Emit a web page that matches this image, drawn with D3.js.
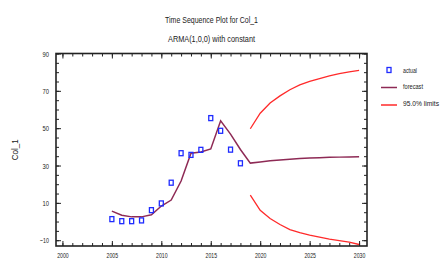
<!DOCTYPE html>
<html>
<head>
<meta charset="utf-8">
<script src="https://cdn.jsdelivr.net/npm/d3@7"></script>
<style>
  body { margin: 0; background: #fff; }
  svg text { font-family: "Liberation Sans", Arial, sans-serif; fill: #222; }
</style>
</head>
<body>
<div id="chart"></div>
<script>
const actualYears = [2005, 2006, 2007, 2008, 2009, 2010, 2011, 2012, 2013, 2014, 2015, 2016, 2017, 2018];
const actualValues = [1.3, 0.2, 0.2, 0.6, 6.1, 9.7, 20.8, 36.6, 35.7, 38.4, 55.4, 48.6, 38.5, 31.2];

const forecastYears = [2005, 2006, 2007, 2008, 2009, 2010, 2011, 2012, 2013, 2014, 2015, 2016, 2017,
    2018, 2019, 2020, 2021, 2022, 2023, 2024, 2025, 2026, 2027, 2028, 2029, 2030];
const forecastValues = [5.6, 3.4, 2.5, 2.5, 3.6, 8.3, 11.5, 21.7, 36.6, 37.3, 38.9, 54.0, 46.8,
    38.6, 31.3, 31.9, 32.5, 33.0, 33.4, 33.7, 34.0, 34.2, 34.4, 34.5, 34.6, 34.7];

const limitYears = [2019, 2020, 2021, 2022, 2023, 2024, 2025, 2026, 2027, 2028, 2029, 2030];
const upperLimits = [49.7, 58.0, 63.5, 67.3, 70.6, 73.2, 75.1, 76.6, 78.0, 79.2, 80.2, 81.0];
const lowerLimits = [14.2, 6.0, 1.6, -1.6, -4.3, -6.0, -7.3, -8.4, -9.4, -10.2, -11.0, -12.3];

const xMajorTicks = [2000, 2005, 2010, 2015, 2020, 2025, 2030];
const yMajorTicks = [-10, 10, 30, 50, 70, 90];
const legendLabels = ["actual", "forecast", "95.0% limits"];

const width = 441, height = 263;
const plotLeft = 56, plotRight = 367, plotTop = 53.5, plotBottom = 246;

const svg = d3.select("#chart").append("svg")
    .attr("width", width)
    .attr("height", height);

const x = d3.scaleLinear().domain([1999.35, 2030.8]).range([plotLeft, plotRight]);
const y = d3.scaleLinear().domain([-13.1, 90]).range([plotBottom, plotTop]);

const xMinor = d3.range(2000, 2031);
const yMinor = d3.range(-10, 91, 5);

// the original uses a very condensed face, so squeeze text to the measured widths
function squeeze(sel, w) {
    sel.attr("textLength", w).attr("lengthAdjust", "spacingAndGlyphs");
}

// titles
svg.append("text").attr("x", 211.5).attr("y", 23).attr("text-anchor", "middle")
    .attr("font-size", 9).text("Time Sequence Plot for Col_1").call(squeeze, 93);
svg.append("text").attr("x", 211.5).attr("y", 42).attr("text-anchor", "middle")
    .attr("font-size", 9).text("ARMA(1,0,0) with constant").call(squeeze, 87);

function styleAxis(g) {
    g.select(".domain").remove();
    g.selectAll("line").attr("stroke", "#222").attr("stroke-width", 1);
    g.selectAll("text").attr("font-size", 8).attr("fill", "#222");
}

svg.append("g").attr("transform", `translate(0,${plotBottom})`)
    .call(d3.axisBottom(x).tickValues(xMinor).tickSize(-3).tickFormat(""))
    .call(styleAxis);
svg.append("g").attr("transform", `translate(0,${plotBottom})`)
    .call(d3.axisBottom(x).tickValues(xMajorTicks).tickSize(-5).tickPadding(6).tickFormat(d3.format("d")))
    .call(styleAxis)
    .call(g => g.selectAll("text").call(squeeze, 11.5));
svg.append("g").attr("transform", `translate(0,${plotTop})`)
    .call(d3.axisTop(x).tickValues(xMinor).tickSize(-3).tickFormat(""))
    .call(styleAxis);
svg.append("g").attr("transform", `translate(0,${plotTop})`)
    .call(d3.axisTop(x).tickValues(xMajorTicks).tickSize(-5).tickFormat(""))
    .call(styleAxis);

svg.append("g").attr("transform", `translate(${plotLeft},0)`)
    .call(d3.axisLeft(y).tickValues(yMinor).tickSize(-3).tickFormat(""))
    .call(styleAxis);
svg.append("g").attr("transform", `translate(${plotLeft},0)`)
    .call(d3.axisLeft(y).tickValues(yMajorTicks).tickSize(-5).tickPadding(7))
    .call(styleAxis)
    .call(g => g.selectAll("text").each(function(d) {
        d3.select(this).call(squeeze, d < 0 ? 9 : 6.5);
    }));
svg.append("g").attr("transform", `translate(${plotRight},0)`)
    .call(d3.axisRight(y).tickValues(yMinor).tickSize(-3).tickFormat(""))
    .call(styleAxis);
svg.append("g").attr("transform", `translate(${plotRight},0)`)
    .call(d3.axisRight(y).tickValues(yMajorTicks).tickSize(-5).tickFormat(""))
    .call(styleAxis);

// frame
svg.append("rect")
    .attr("x", plotLeft).attr("y", plotTop)
    .attr("width", plotRight - plotLeft).attr("height", plotBottom - plotTop)
    .attr("fill", "none").attr("stroke", "#222").attr("stroke-width", 1.6);

// y label
svg.append("text")
    .attr("transform", `translate(18,${(plotTop + plotBottom) / 2}) rotate(-90)`)
    .attr("text-anchor", "middle")
    .attr("font-size", 8.5)
    .text("Col_1")
    .call(squeeze, 21);

// limits
const line = d3.line().x(d => x(d[0])).y(d => y(d[1]));
svg.append("path")
    .datum(limitYears.map((yr, i) => [yr, upperLimits[i]]))
    .attr("d", line).attr("fill", "none").attr("stroke", "#ff2a2a").attr("stroke-width", 1.3);
svg.append("path")
    .datum(limitYears.map((yr, i) => [yr, lowerLimits[i]]))
    .attr("d", line).attr("fill", "none").attr("stroke", "#ff2a2a").attr("stroke-width", 1.3);

// forecast
svg.append("path")
    .datum(forecastYears.map((yr, i) => [yr, forecastValues[i]]))
    .attr("d", line).attr("fill", "none").attr("stroke", "#8e2a55").attr("stroke-width", 1.5);

// actual
svg.append("g").selectAll("rect")
    .data(actualYears.map((yr, i) => [yr, actualValues[i]]))
    .enter().append("rect")
    .attr("x", d => x(d[0]) - 2)
    .attr("y", d => y(d[1]) - 2.5)
    .attr("width", 4)
    .attr("height", 5)
    .attr("fill", "none")
    .attr("stroke", "#1f2cff")
    .attr("stroke-width", 1.3);

// legend
const legend = svg.append("g");
legend.append("rect").attr("x", 387).attr("y", 67.5).attr("width", 4).attr("height", 5)
    .attr("fill", "none").attr("stroke", "#1f2cff").attr("stroke-width", 1.3);
legend.append("line").attr("x1", 381).attr("x2", 397).attr("y1", 87.5).attr("y2", 87.5)
    .attr("stroke", "#8e2a55").attr("stroke-width", 1.5);
legend.append("line").attr("x1", 381).attr("x2", 397).attr("y1", 105).attr("y2", 105)
    .attr("stroke", "#ff2a2a").attr("stroke-width", 1.5);
const legendWidths = [14, 20, 36];
legend.selectAll("text")
    .data(legendLabels)
    .enter().append("text")
    .attr("x", 403)
    .attr("y", (d, i) => [73, 89, 106][i])
    .attr("font-size", 7)
    .text(d => d)
    .each(function(d, i) { d3.select(this).call(squeeze, legendWidths[i]); });
</script>
</body>
</html>
